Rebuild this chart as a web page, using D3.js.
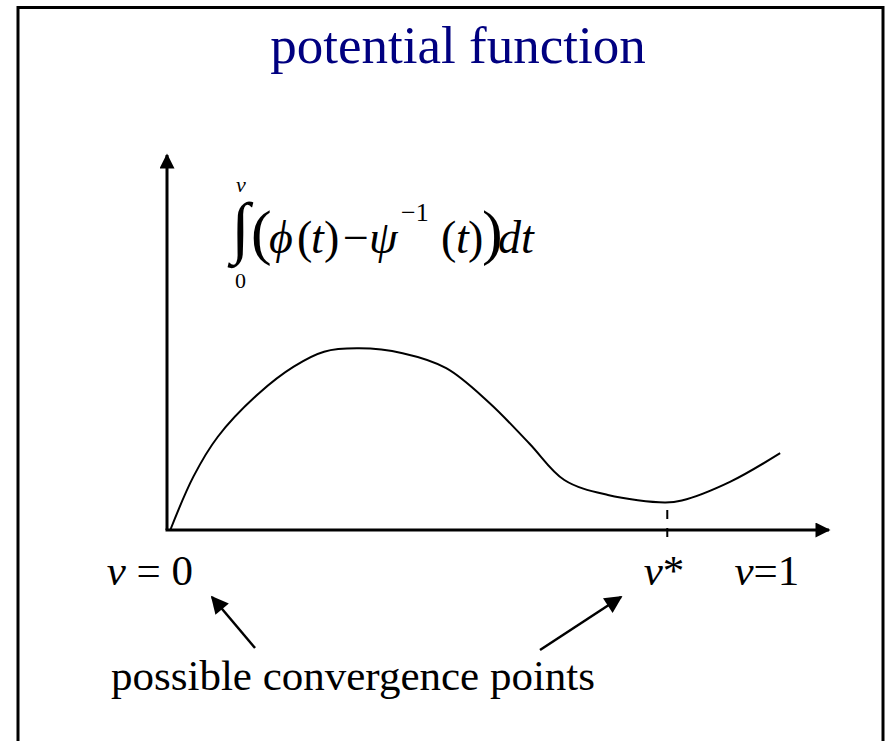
<!DOCTYPE html>
<html>
<head>
<meta charset="utf-8">
<script src="https://cdn.jsdelivr.net/npm/d3@7"></script>
<style>
  body { margin: 0; background: #fff; }
  text { font-family: "Liberation Serif", "Times New Roman", serif; }
</style>
</head>
<body>
<svg id="chart"></svg>
<script>
// potential curve (x: 0..100 along v axis, y: 0..100 up the axis)
const curveX = [0.5, 4.0, 7.7, 13.9, 19.2, 23.8, 29.1, 35.7, 42.3, 48.9, 54.9, 60.2, 66.8, 75.4, 78.0, 85.3, 92.9];
const curveY = [0.0, 14.3, 25.0, 36.6, 43.8, 47.8, 48.7, 47.4, 43.4, 34.0, 23.2, 13.4, 9.4, 7.4, 7.9, 12.9, 20.6];

const vStar = 75.8;
const tickLabels = ['v = 0', 'v*', 'v=1'];
const tickPos = [-2.6, 75.3, 90.9];

const title = 'potential function';
const note = 'possible convergence points';

const width = 887, height = 741;
const margin = {top: 157, right: 60, bottom: 211, left: 167};

const svg = d3.select('#chart')
    .attr('width', width)
    .attr('height', height);

// frame
svg.append('rect')
    .attr('x', 18).attr('y', 7.5)
    .attr('width', 865).attr('height', 760)
    .attr('fill', 'none')
    .attr('stroke', '#000')
    .attr('stroke-width', 3);

svg.append('text')
    .attr('x', 458).attr('y', 63)
    .attr('text-anchor', 'middle')
    .attr('fill', '#000080')
    .style('font-size', '53px')
    .text(title);

const xScale = d3.scaleLinear().domain([0, 100]).range([margin.left, width - margin.right]);
const yScale = d3.scaleLinear().domain([0, 100]).range([height - margin.bottom, margin.top]);

const defs = svg.append('defs');
function arrowHead(id, w, h) {
  defs.append('marker')
      .attr('id', id)
      .attr('viewBox', '0 0 10 10')
      .attr('refX', 9).attr('refY', 5)
      .attr('markerWidth', w).attr('markerHeight', h)
      .attr('markerUnits', 'strokeWidth')
      .attr('orient', 'auto')
    .append('path')
      .attr('d', 'M0,0 L10,5 L0,10 Z')
      .attr('fill', '#000');
}
arrowHead('head', 6, 5);
arrowHead('head2', 8, 7);

// axes
const y0 = yScale(0);
svg.append('line')
    .attr('x1', xScale(0)).attr('y1', y0)
    .attr('x2', xScale(0)).attr('y2', yScale(100) - 2)
    .attr('stroke', '#000').attr('stroke-width', 3)
    .attr('marker-end', 'url(#head)');
svg.append('line')
    .attr('x1', xScale(0) - 1.5).attr('y1', y0)
    .attr('x2', xScale(100) + 2).attr('y2', y0)
    .attr('stroke', '#000').attr('stroke-width', 3)
    .attr('marker-end', 'url(#head)');

// v* dashed marker
svg.append('line')
    .attr('x1', xScale(vStar)).attr('y1', y0 - 20)
    .attr('x2', xScale(vStar)).attr('y2', y0 + 10)
    .attr('stroke', '#000').attr('stroke-width', 2)
    .attr('stroke-dasharray', '9,9');

// curve
const pts = curveX.map((x, i) => [x, curveY[i]]);
const line = d3.line()
    .x(d => xScale(d[0]))
    .y(d => yScale(d[1]))
    .curve(d3.curveCatmullRom.alpha(0.5));
svg.append('path')
    .datum(pts)
    .attr('d', line)
    .attr('fill', 'none')
    .attr('stroke', '#000')
    .attr('stroke-width', 2);

// tick labels
const labels = svg.append('g').style('font-size', '43px');
tickLabels.forEach((t, i) => {
  const lab = labels.append('text')
      .attr('x', xScale(tickPos[i]))
      .attr('y', y0 + 55)
      .attr('text-anchor', 'middle');
  const parts = t.split('v');
  lab.append('tspan').style('font-style', 'italic').text('v');
  lab.append('tspan').text(parts[1]);
});

// formula, token by token
const fg = svg.append('g');
function tok(s, x, y, size, italic) {
  fg.append('text')
      .attr('x', x).attr('y', y)
      .style('font-size', size + 'px')
      .style('font-style', italic ? 'italic' : 'normal')
      .text(s);
}
tok('∫', 231, 250, 68, false);
tok('v', 236, 192, 22, true);
tok('0', 235, 288, 22, false);
tok('(', 251, 253, 62, false);
tok('ϕ', 269, 253, 46, true);
tok('(', 297, 253, 46, false);
tok('t', 311, 253, 46, true);
tok(')', 324, 253, 46, false);
tok('−', 343, 253, 46, false);
tok('ψ', 369, 253, 46, true);
tok('−1', 401, 221, 26, false);
tok('(', 441, 253, 46, false);
tok('t', 456, 253, 46, true);
tok(')', 468, 253, 46, false);
tok(')', 482, 253, 62, false);
tok('dt', 498, 253, 46, true);

// note and arrows
svg.append('text')
    .attr('x', 353).attr('y', 690)
    .attr('text-anchor', 'middle')
    .style('font-size', '43px')
    .text(note);

svg.append('line')
    .attr('x1', 255).attr('y1', 648)
    .attr('x2', 212).attr('y2', 597)
    .attr('stroke', '#000').attr('stroke-width', 2.5)
    .attr('marker-end', 'url(#head2)');
svg.append('line')
    .attr('x1', 540).attr('y1', 650)
    .attr('x2', 621).attr('y2', 597)
    .attr('stroke', '#000').attr('stroke-width', 2.5)
    .attr('marker-end', 'url(#head2)');
</script>
</body>
</html>
